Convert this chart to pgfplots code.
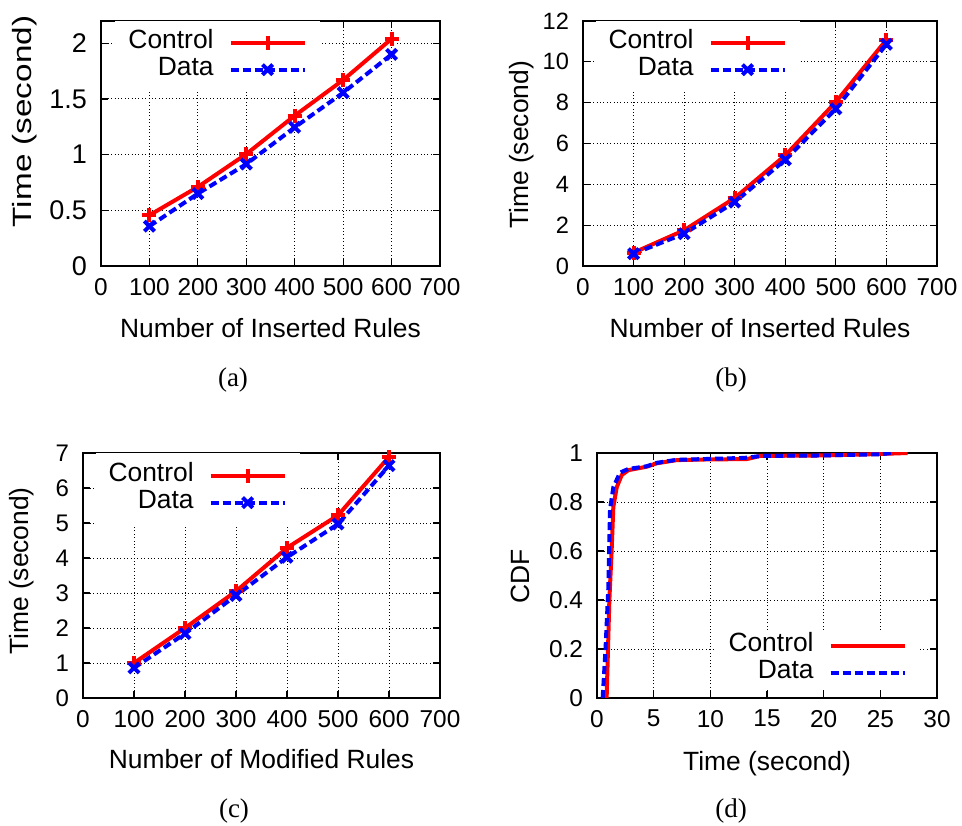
\documentclass[border=0pt]{standalone}
\usepackage{fontspec}
\setmainfont{Liberation Sans}
\newfontfamily\capfont{Liberation Serif}
\newfontfamily\stretchfont[FakeStretch=1.26]{Liberation Sans}
\usepackage{pgfplots}
\pgfplotsset{compat=1.18}
\pgfplotsset{
 gp/.style={
  scale only axis,
  axis line style={line width=0.8bp},
  tick style={line width=0.6bp, black},
  major tick length=3.5bp,
  grid=major,
  grid style={line width=0.45bp, black, dash pattern=on 0.5bp off 1.2bp},
  /pgf/number format/assume math mode=true,
  ticklabel style={font=\fontsize{12.2bp}{14bp}\selectfont},
  label style={font=\fontsize{13.2bp}{15bp}\selectfont},
  legend style={draw=none, fill=white, font=\fontsize{13.2bp}{15bp}\selectfont,
    inner xsep=6.5bp, inner ysep=3.9bp, row sep=0pt, column sep=7.5bp,
    nodes={inner sep=0pt, text height=9.6bp, text depth=3.9bp}},
  legend plot pos=right,
  legend cell align=right,
  legend image code/.code={\draw[mark repeat=2,mark phase=2,##1] plot coordinates {(0bp,0bp) (18.5bp,0bp) (37bp,0bp)};},
  xticklabel style={yshift=-2.5bp},
  yticklabel style={xshift=-3.5bp},
  scaled ticks=false,
 },
 rules/.style={xmin=0, xmax=700, xtick={0,100,...,700}},
 ctrl/.style={red, line width=2bp, mark=+, mark size=3.5bp, mark options={solid, line width=2bp}},
 dat/.style={blue, line width=2bp, dash pattern=on 4bp off 2bp, mark=x, mark size=3.6bp, mark options={solid, line width=2bp}},
}
\begin{document}
\begin{tikzpicture}
\path[use as bounding box] (0,0) rectangle (481bp,413bp);

% (a)
\begin{axis}[gp, rules, at={(50.5bp,280bp)}, anchor=south west, width=169.5bp, height=122.5bp,
  ymin=0, ymax=2.2, ytick={0,0.5,1,1.5,2},
  yticklabel style={font=\fontsize{13.5bp}{15bp}\selectfont},
  xlabel={Number of Inserted Rules}, ylabel={\stretchfont Time (second)},
  xlabel style={at={(axis description cs:0.5,-0.29)}, anchor=base},
  ylabel style={at={(axis description cs:-0.224,0.59)}, anchor=center},
  legend style={at={(axis description cs:0.646,1)}, anchor=north east}]
\addplot[ctrl] coordinates {(100,0.456) (200,0.71) (300,1.005) (400,1.35) (500,1.67) (600,2.04)};
\addlegendentry{Control}
\addplot[dat] coordinates {(100,0.357) (200,0.65) (300,0.915) (400,1.245) (500,1.556) (600,1.90)};
\addlegendentry{Data}
\end{axis}

% (b)
\begin{axis}[gp, rules, at={(291.5bp,280bp)}, anchor=south west, width=177bp, height=122.5bp,
  ymin=0, ymax=12, ytick={0,2,...,12},
  yticklabel style={font=\fontsize{11.8bp}{14bp}\selectfont},
  xlabel={Number of Inserted Rules}, ylabel={Time (second)},
  xlabel style={at={(axis description cs:0.5,-0.29)}, anchor=base},
  ylabel style={at={(axis description cs:-0.172,0.494)}, anchor=center},
  legend style={at={(axis description cs:0.613,1)}, anchor=north east}]
\addplot[ctrl] coordinates {(100,0.65) (200,1.75) (300,3.33) (400,5.42) (500,8.03) (600,11.08)};
\addlegendentry{Control}
\addplot[dat] coordinates {(100,0.6) (200,1.58) (300,3.13) (400,5.2) (500,7.7) (600,10.86)};
\addlegendentry{Data}
\end{axis}

% (c)
\begin{axis}[gp, rules, at={(41.5bp,64bp)}, anchor=south west, width=178.5bp, height=122.5bp,
  ymin=0, ymax=7, ytick={0,1,...,7},
  yticklabel style={font=\fontsize{12bp}{14bp}\selectfont},
  xlabel={Number of Modified Rules}, ylabel={Time (second)},
  xlabel style={at={(axis description cs:0.5,-0.287)}, anchor=base},
  ylabel style={at={(axis description cs:-0.171,0.518)}, anchor=center},
  legend style={at={(axis description cs:0.608,1)}, anchor=north east, inner ysep=4.4bp}]
\addplot[ctrl] coordinates {(100,1.0) (200,2.0) (300,3.05) (400,4.29) (500,5.22) (600,6.89)};
\addlegendentry{Control}
\addplot[dat] coordinates {(100,0.86) (200,1.84) (300,2.93) (400,4.02) (500,4.97) (600,6.64)};
\addlegendentry{Data}
\end{axis}

% (d)
\begin{axis}[gp, at={(298.5bp,64bp)}, anchor=south west, width=170bp, height=122.5bp,
  xmin=0, xmax=30, xtick={0,5,...,30},
  ymin=0, ymax=1, ytick={0,0.2,...,1},
  xlabel={Time (second)}, ylabel={CDF},
  xlabel style={at={(axis description cs:0.5,-0.294)}, anchor=base},
  ylabel style={at={(axis description cs:-0.226,0.496)}, anchor=center},
  legend style={at={(axis description cs:0.95,0.036)}, anchor=south east, inner ysep=1.2bp}]
\addplot[red, line width=2bp] coordinates {(0.85,0) (1.09,0.4) (1.29,0.6) (1.44,0.78) (1.74,0.86) (2.18,0.91) (2.77,0.93) (4.38,0.944) (5.27,0.958) (7.03,0.971) (10,0.974) (13.2,0.975) (14.4,0.988) (20,0.99) (25,0.996) (27.4,1.0)};
\addlegendentry{Control}
\addplot[blue, line width=2bp, dash pattern=on 4bp off 2bp] coordinates {(0.5,0) (0.75,0.2) (1.0,0.45) (1.15,0.77) (1.44,0.86) (2.03,0.92) (2.77,0.935) (4.4,0.946) (5.3,0.96) (7.0,0.972) (10,0.976) (13,0.98) (14.5,0.988) (20,0.99) (25,0.995) (26,1.0)};
\addlegendentry{Data}
\end{axis}

\node[font=\capfont\fontsize{13.5bp}{15bp}\selectfont, anchor=base] at (116.5bp,219.5bp) {(a)};
\node[font=\capfont\fontsize{13.5bp}{15bp}\selectfont, anchor=base] at (365.5bp,219.5bp) {(b)};
\node[font=\capfont\fontsize{13.5bp}{15bp}\selectfont, anchor=base] at (117bp,4.5bp) {(c)};
\node[font=\capfont\fontsize{13.5bp}{15bp}\selectfont, anchor=base] at (365.5bp,4.5bp) {(d)};
\end{tikzpicture}
\end{document}
